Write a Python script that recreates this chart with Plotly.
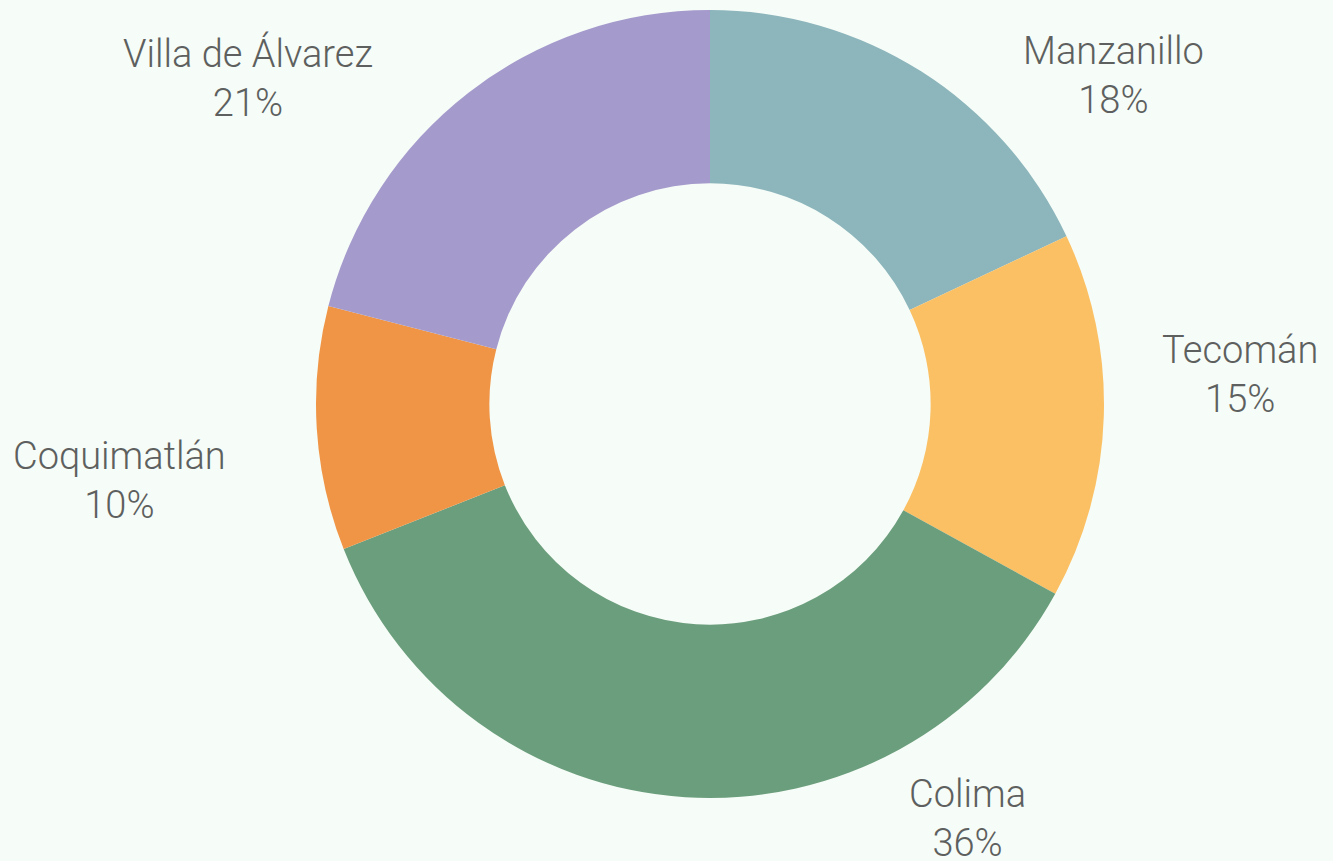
import plotly.graph_objects as go

municipios = ["Manzanillo", "Tecomán", "Colima", "Coquimatlán", "Villa de Álvarez"]
porcentajes = [18, 15, 36, 10, 21]
colores = ["#8cb5bc", "#fbc064", "#6b9e7c", "#f09545", "#a59acc"]

# label block centres in pixels (layout only)
label_pos = [(1113, 76), (1240, 374), (967, 818), (120, 481), (248, 78)]

W, H = 1333, 861
fondo = "#f6fcf7"

fig = go.Figure()
fig.add_trace(go.Pie(
    labels=municipios,
    values=porcentajes,
    hole=0.56,
    sort=False,
    direction="clockwise",
    rotation=0,
    marker=dict(colors=colores, line=dict(width=0)),
    textinfo="none",
    showlegend=False,
    hoverinfo="label+percent",
    domain=dict(x=[87 / W, 1], y=[63 / H, 851 / H]),
))

total = sum(porcentajes)
for nombre, valor, (px, py) in zip(municipios, porcentajes, label_pos):
    fig.add_annotation(
        x=px / W, y=1 - py / H, xref="paper", yref="paper",
        text=f"{nombre}<br>{round(100 * valor / total)}%",
        showarrow=False, xanchor="center", yanchor="middle",
        font=dict(family="Roboto", size=38, color="#5d605e", weight=300),
    )

fig.update_layout(
    width=W,
    height=H,
    margin=dict(l=0, r=0, t=0, b=0),
    paper_bgcolor=fondo,
    plot_bgcolor=fondo,
)

fig.write_html(
    "out.html",
    config={"displayModeBar": False},
    post_script="document.body.style.margin='0';document.body.style.background='%s';" % fondo,
)
